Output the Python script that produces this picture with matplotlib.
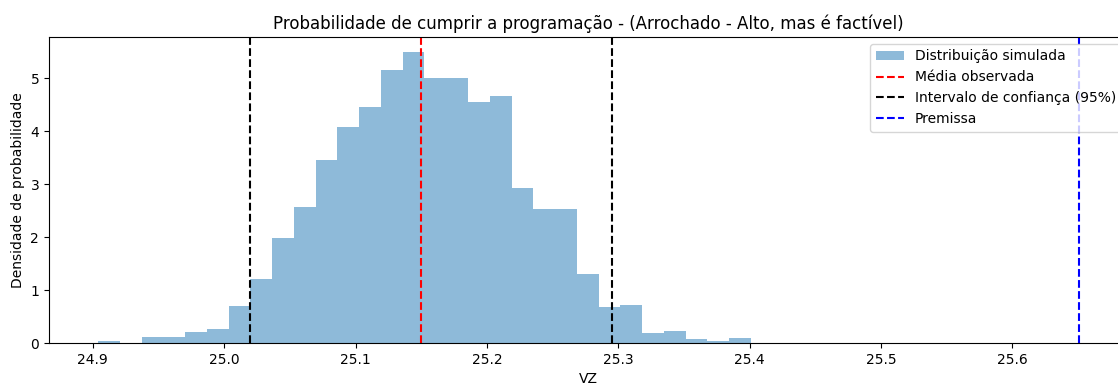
import matplotlib

matplotlib.use("Agg")
import matplotlib.pyplot as plt
import numpy as np

# Simulated VZ distribution (density per bin).
VZ_MIN = 24.904
VZ_MAX = 25.401
N_BINS = 30
DENSITY = [
    0.03, 0.00, 0.12, 0.12, 0.21, 0.26, 0.70, 1.20, 1.98, 2.57,
    3.46, 4.07, 4.45, 5.16, 5.50, 5.01, 5.01, 4.54, 4.67, 2.92,
    2.52, 2.52, 1.30, 0.68, 0.72, 0.19, 0.23, 0.08, 0.03, 0.09,
]

MEAN_OBS = 25.15
CI_LOW = 25.020
CI_HIGH = 25.295
PREMISSA = 25.651

TITLE = "Probabilidade de cumprir a programação - (Arrochado - Alto, mas é factível)"

edges = np.linspace(VZ_MIN, VZ_MAX, N_BINS + 1)

fig = plt.figure(figsize=(11.18, 3.85), dpi=100)
# the reference is cropped on the right, so the axes run just past the figure edge
ax = fig.add_axes([0.0438, 0.109, 0.9655, 0.795])

ax.hist(edges[:-1], bins=edges, weights=DENSITY, alpha=0.5, label="Distribuição simulada")
ax.axvline(MEAN_OBS, color="red", linestyle="--", label="Média observada")
ax.axvline(CI_LOW, color="black", linestyle="--", label="Intervalo de confiança (95%)")
ax.axvline(CI_HIGH, color="black", linestyle="--")
ax.axvline(PREMISSA, color="blue", linestyle="--", label="Premissa")

ax.set_title(TITLE)
ax.set_xlabel("VZ")
ax.set_ylabel("Densidade de probabilidade")
ax.legend(loc="upper right")

fig.savefig("out.png", dpi=100)
